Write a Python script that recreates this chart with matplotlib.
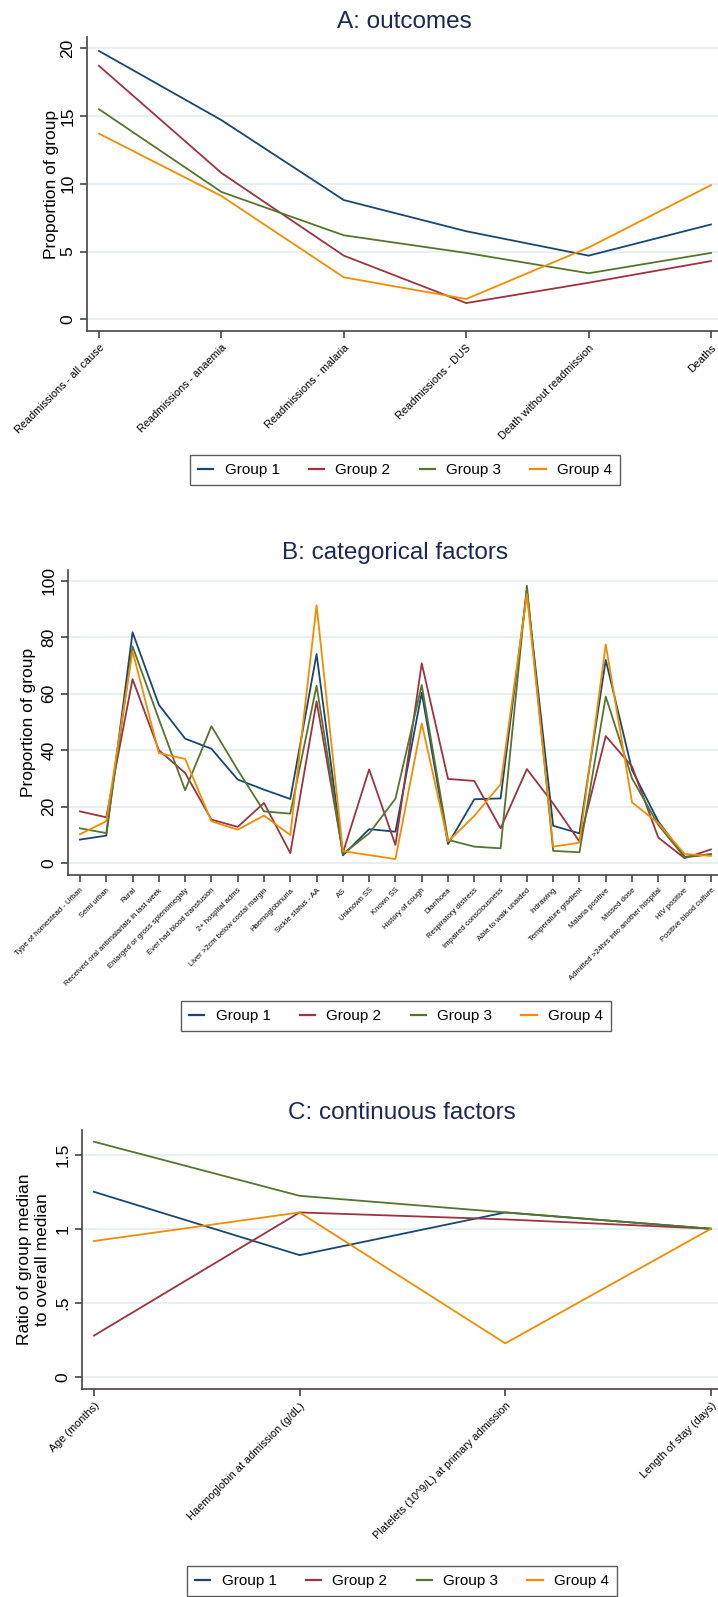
import matplotlib.pyplot as plt

# colours (Stata s2color-like)
colors = ['#1a476f', '#9b3440', '#55752f', '#f28c00']
labels = ['Group 1', 'Group 2', 'Group 3', 'Group 4']

# Panel A: outcomes
outcome_cats = ['Readmissions - all cause', 'Readmissions - anaemia', 'Readmissions - malaria',
                'Readmissions - DUS', 'Death without readmission', 'Deaths']
outcome_g1 = [19.8, 14.7, 8.8, 6.5, 4.7, 7.0]
outcome_g2 = [18.7, 10.8, 4.7, 1.2, 2.7, 4.3]
outcome_g3 = [15.5, 9.4, 6.2, 4.9, 3.4, 4.9]
outcome_g4 = [13.7, 9.1, 3.1, 1.5, 5.3, 9.9]

# Panel B: categorical factors
cat_names = ['Type of homestead - Urban', 'Semi urban', 'Rural',
             'Received oral antimalarials in last week', 'Enlarged or gross splenomegaly',
             'Ever had blood transfusion', '2+ hospital adms', 'Liver >2cm below costal margin',
             'Haemoglobinuria', 'Sickle status - AA', 'AS', 'Unknown SS', 'Known SS',
             'History of cough', 'Diarrhoea', 'Respiratory distress', 'Impaired consciousness',
             'Able to walk unaided', 'Indrawing', 'Temperature gradient', 'Malaria positive',
             'Missed dose', 'Admitted >24hrs into another hospital', 'HIV positive',
             'Positive blood culture']
cat_g1 = [8.3, 9.7, 81.8, 56.1, 44.1, 40.5, 29.6, 26.0, 22.7, 74.1, 2.7, 12.0, 11.1,
          60.4, 6.7, 22.6, 22.9, 96.5, 13.2, 10.5, 72.0, 33.0, 14.7, 2.2, 3.1]
cat_g2 = [18.3, 16.2, 65.2, 40.0, 31.9, 15.4, 12.8, 21.3, 3.5, 57.3, 3.6, 33.2, 6.4,
          70.8, 29.8, 29.1, 12.3, 33.3, 21.1, 7.6, 45.0, 34.2, 9.0, 1.7, 4.8]
cat_g3 = [12.3, 10.6, 76.8, 51.0, 25.8, 48.5, 33.0, 18.3, 17.5, 62.9, 3.2, 10.5, 22.8,
          63.1, 8.2, 5.8, 5.2, 98.3, 4.3, 3.8, 59.0, 30.0, 13.5, 2.0, 3.1]
cat_g4 = [10.2, 14.8, 75.1, 39.0, 36.9, 14.8, 11.8, 16.8, 9.9, 91.4, 4.2, 2.8, 1.4,
          49.5, 7.6, 16.7, 27.9, 95.3, 5.8, 7.2, 77.5, 21.5, 14.1, 3.2, 2.5]

# Panel C: continuous factors
cont_names = ['Age (months)', 'Haemoglobin at admission (g/dL)',
              'Platelets (10^9/L) at primary admission', 'Length of stay (days)']
cont_g1 = [1.249, 0.822, 1.110, 1.0]
cont_g2 = [0.279, 1.110, 1.063, 1.0]
cont_g3 = [1.587, 1.222, 1.110, 1.0]
cont_g4 = [0.917, 1.110, 0.227, 1.0]

W, H = 718, 1597
fig = plt.figure(figsize=(W / 100, H / 100), dpi=100)
plt.rcParams['font.family'] = ['Liberation Sans', 'DejaVu Sans']
title_col = '#1a2a55'
axis_col = '#444444'
grid_col = '#e6eff1'


def add_axes(left, right, top, bottom):
    return fig.add_axes([left / W, 1 - bottom / H, (right - left) / W, (bottom - top) / H])


def style(ax, names, yticks, yticklabels, fs_x, ylabel, pad=4):
    ax.set_xticks(range(len(names)))
    ax.set_xticklabels(names, rotation=45, ha='right', rotation_mode='anchor', fontsize=fs_x)
    ax.set_yticks(yticks)
    ax.set_yticklabels(yticklabels, rotation=90, va='center', fontsize=12.5)
    ax.set_ylabel(ylabel, fontsize=12.5, labelpad=pad)
    for s in ['top', 'right']:
        ax.spines[s].set_visible(False)
    for s in ['left', 'bottom']:
        ax.spines[s].set_color(axis_col)
        ax.spines[s].set_linewidth(1.2)
    ax.tick_params(colors=axis_col, length=5, width=1.2, labelcolor='black')
    ax.grid(axis='y', color=grid_col, linewidth=1.5)
    ax.set_axisbelow(True)


def add_legend(cx, cy):
    leg = fig.legend(labels, loc='center', bbox_to_anchor=(cx / W, 1 - cy / H), ncol=4,
                     frameon=True, fancybox=False, edgecolor='#333333',
                     handlelength=1.0, handletextpad=0.75, columnspacing=1.9,
                     borderpad=0.55, prop={'size': 11})
    for line in leg.get_lines():
        line.set_linewidth(1.6)


# ---- A ----
axA = add_axes(87, 718, 37, 331)
for vals, c in zip([outcome_g1, outcome_g2, outcome_g3, outcome_g4], colors):
    axA.plot(range(len(outcome_cats)), vals, color=c, lw=1.3)
axA.set_xlim(-0.098, 5.057)
axA.set_ylim(-0.86, 20.83)
style(axA, outcome_cats, [0, 5, 10, 15, 20], ['0', '5', '10', '15', '20'], 7.8,
      'Proportion of group', pad=1)
fig.text(404 / W, 1 - 22 / H, 'A: outcomes', ha='center', va='center', fontsize=17.5,
         color=title_col)
add_legend(405, 470)

# ---- B ----
axB = add_axes(68, 718, 570, 875)
for vals, c in zip([cat_g1, cat_g2, cat_g3, cat_g4], colors):
    axB.plot(range(len(cat_names)), vals, color=c, lw=1.3)
axB.set_xlim(-0.456, 24.27)
axB.set_ylim(-4.26, 103.9)
style(axB, cat_names, [0, 20, 40, 60, 80, 100], ['0', '20', '40', '60', '80', '100'], 5.5,
      'Proportion of group')
fig.text(395 / W, 1 - 553 / H, 'B: categorical factors', ha='center', va='center', fontsize=17.5,
         color=title_col)
add_legend(396, 1016)

# ---- C ----
axC = add_axes(82, 718, 1130, 1389)
for vals, c in zip([cont_g1, cont_g2, cont_g3, cont_g4], colors):
    axC.plot(range(len(cont_names)), vals, color=c, lw=1.3)
axC.set_xlim(-0.058, 3.034)
axC.set_ylim(-0.081, 1.666)
style(axC, cont_names, [0, 0.5, 1, 1.5], ['0', '.5', '1', '1.5'], 7.8,
      'Ratio of group median\nto overall median')
fig.text(402 / W, 1 - 1113 / H, 'C: continuous factors', ha='center', va='center', fontsize=17.5,
         color=title_col)
add_legend(402, 1581)

fig.savefig('out.png', dpi=100, facecolor='white')
